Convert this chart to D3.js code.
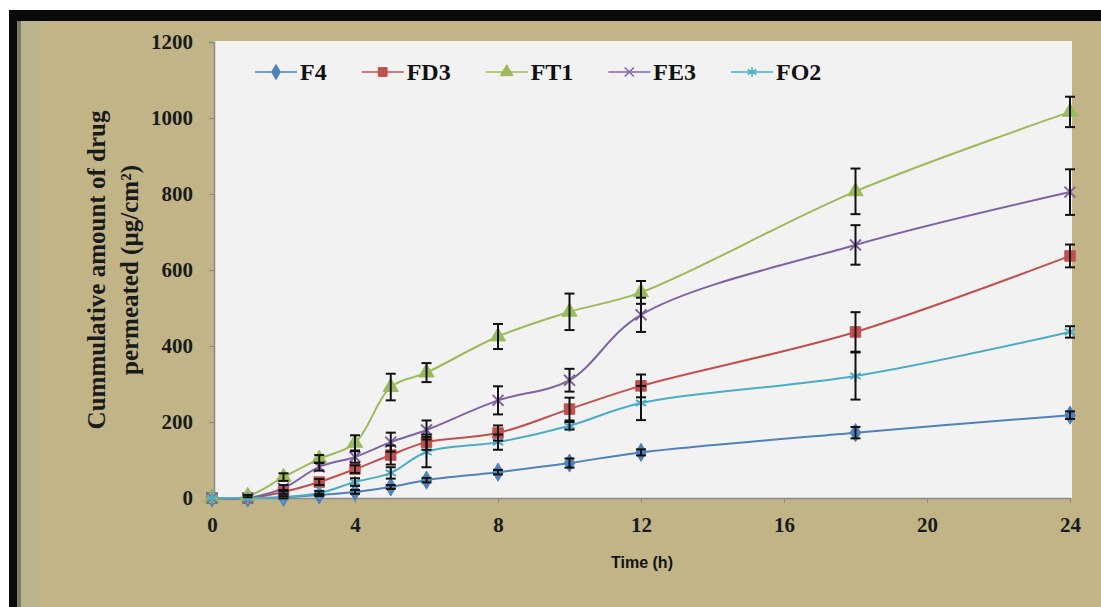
<!DOCTYPE html>
<html>
<head>
<meta charset="utf-8">
<script src="https://cdn.jsdelivr.net/npm/d3@7"></script>
<style>
  body { margin: 0; background: #fff; }
  svg { display: block; }
</style>
</head>
<body>
<div id="chart"></div>
<script>
// sampling times (h)
var time = [0, 1, 2, 3, 4, 5, 6, 8, 10, 12, 18, 24];

// cumulative amount permeated (µg/cm²)
var f4  = [0, 0, 2, 8, 16, 29, 47, 68, 92, 120, 172, 218];
var fd3 = [0, 0, 16, 42, 76, 113, 147, 171, 234, 295, 437, 637];
var ft1 = [0, 5, 55, 103, 145, 292, 330, 425, 490, 541, 807, 1016];
var fe3 = [0, 0, 26, 82, 108, 147, 179, 257, 310, 482, 666, 805];
var fo2 = [0, 0, 2, 13, 42, 66, 121, 147, 190, 250, 321, 437];

// standard deviations (error bars)
var f4Err  = [0, 0, 0, 3, 5, 5, 6, 6, 12, 8, 15, 10];
var fd3Err = [0, 0, 5, 8, 10, 25, 20, 20, 30, 30, 52, 30];
var ft1Err = [0, 3, 10, 10, 20, 35, 25, 33, 48, 30, 60, 40];
var fe3Err = [0, 0, 8, 10, 15, 25, 25, 37, 30, 45, 52, 60];
var fo2Err = [0, 0, 3, 5, 10, 15, 40, 20, 10, 45, 62, 15];

var seriesNames = ['F4', 'FD3', 'FT1', 'FE3', 'FO2'];
var xTicks = [0, 4, 8, 12, 16, 20, 24];
var yTicks = [0, 200, 400, 600, 800, 1000, 1200];

var series = [
    {name: 'F4',  values: f4,  err: f4Err,  color: '#4f81bd', symbol: d3.symbolDiamond, size: 95, filled: true},
    {name: 'FD3', values: fd3, err: fd3Err, color: '#c0504d', symbol: d3.symbolSquare, size: 110, filled: true},
    {name: 'FT1', values: ft1, err: ft1Err, color: '#9bbb59', symbol: d3.symbolTriangle, size: 100, filled: true},
    {name: 'FE3', values: fe3, err: fe3Err, color: '#8064a2', symbol: d3.symbolTimes, size: 80, filled: false},
    {name: 'FO2', values: fo2, err: fo2Err, color: '#4bacc6', symbol: d3.symbolAsterisk, size: 100, filled: false}
];

var width = 1101, height = 607;
var plot = {left: 214, right: 1072, top: 41, bottom: 498};

var svg = d3.select('#chart').append('svg')
    .attr('width', width)
    .attr('height', height);

// frame: tan panel with black border on top and left
svg.append('rect').attr('x', 0).attr('y', 0).attr('width', width).attr('height', height).attr('fill', '#ffffff');
svg.append('rect').attr('x', 9).attr('y', 10).attr('width', width - 9).attr('height', height - 10).attr('fill', '#c1b588');
svg.append('rect').attr('x', 9).attr('y', 10).attr('width', width - 9).attr('height', 11).attr('fill', '#0a0a0a');
svg.append('rect').attr('x', 9).attr('y', 10).attr('width', 8).attr('height', height - 10).attr('fill', '#0a0a0a');
svg.append('rect').attr('x', 17).attr('y', 21).attr('width', 4).attr('height', height - 21).attr('fill', '#7d7766');
svg.append('rect').attr('x', 21).attr('y', 21).attr('width', 20).attr('height', height - 21).attr('fill', '#b9b48c');

// plot area
svg.append('rect')
    .attr('x', plot.left).attr('y', plot.top)
    .attr('width', plot.right - plot.left).attr('height', plot.bottom - plot.top)
    .attr('fill', '#f2f2f2');

var x = d3.scaleLinear().domain([0, 24]).range([212, 1070]);
var y = d3.scaleLinear().domain([0, 1200]).range([plot.bottom, plot.top + 1]);

var tickFont = '"Liberation Serif", "Times New Roman", serif';

var yAxis = svg.append('g')
    .attr('transform', 'translate(' + plot.left + ',0)')
    .call(d3.axisLeft(y).tickValues(yTicks).tickSize(5).tickPadding(16).tickFormat(d3.format('d')));
yAxis.select('.domain').attr('stroke', '#8a8a8a').attr('stroke-width', 1.5);
yAxis.selectAll('.tick line').attr('stroke', '#8a8a8a');
yAxis.selectAll('.tick text')
    .attr('font-family', tickFont).attr('font-weight', 'bold').attr('font-size', 21).attr('fill', '#1a1a1a');

var xAxis = svg.append('g')
    .attr('transform', 'translate(0,' + plot.bottom + ')')
    .call(d3.axisBottom(x).tickValues(xTicks).tickSize(5).tickPadding(14).tickSizeOuter(0));
xAxis.select('.domain').attr('stroke', '#8a8a8a').attr('stroke-width', 1.5);
xAxis.selectAll('.tick line').attr('stroke', '#8a8a8a');
xAxis.selectAll('.tick text')
    .attr('font-family', tickFont).attr('font-weight', 'bold').attr('font-size', 21).attr('fill', '#1a1a1a');

// axis titles
svg.append('text')
    .attr('transform', 'translate(642,568)')
    .attr('text-anchor', 'middle')
    .attr('font-family', '"Liberation Sans Narrow", "Liberation Sans", Arial, sans-serif')
    .attr('font-weight', 'bold').attr('font-size', 16).attr('fill', '#111')
    .text('Time (h)');

var yTitle = svg.append('text')
    .attr('transform', 'translate(105,270) rotate(-90)')
    .attr('text-anchor', 'middle')
    .attr('font-family', tickFont).attr('font-weight', 'bold').attr('font-size', 25).attr('fill', '#1a1a1a');
yTitle.append('tspan').attr('x', 0).attr('dy', 0).text('Cummulative amount of drug');
yTitle.append('tspan').attr('x', 0).attr('dy', 33).text('permeated (µg/cm²)');

// lines
var line = d3.line()
    .x(function(d) { return x(d[0]); })
    .y(function(d) { return y(d[1]); })
    .curve(d3.curveCatmullRom.alpha(0.5));

series.forEach(function(s) {
    var pts = time.map(function(t, i) { return [t, s.values[i]]; });
    svg.append('path')
        .datum(pts)
        .attr('fill', 'none')
        .attr('stroke', s.color)
        .attr('stroke-width', 2)
        .attr('d', line);
});

// markers
series.forEach(function(s) {
    var g = svg.append('g');
    g.selectAll('path')
        .data(time.map(function(t, i) { return [t, s.values[i]]; }))
        .enter().append('path')
        .attr('transform', function(d) { return 'translate(' + x(d[0]) + ',' + y(d[1]) + ')'; })
        .attr('d', d3.symbol().type(s.symbol).size(s.size))
        .attr('fill', s.filled ? s.color : 'none')
        .attr('stroke', s.color)
        .attr('stroke-width', s.filled ? 1 : 2);
});

// error bars
series.forEach(function(s) {
    var g = svg.append('g').attr('stroke', '#111').attr('stroke-width', 2);
    time.forEach(function(t, i) {
        if (!s.err[i]) return;
        var cx = x(t), y1 = y(s.values[i] + s.err[i]), y2 = y(s.values[i] - s.err[i]);
        g.append('line').attr('x1', cx).attr('x2', cx).attr('y1', y1).attr('y2', y2);
        g.append('line').attr('x1', cx - 5).attr('x2', cx + 5).attr('y1', y1).attr('y2', y1);
        g.append('line').attr('x1', cx - 5).attr('x2', cx + 5).attr('y1', y2).attr('y2', y2);
    });
});

// legend, items packed by text width like Excel does
var legend = svg.append('g').attr('transform', 'translate(255,72)');
var legendX = 0;
series.forEach(function(s, i) {
    var lg = legend.append('g').attr('transform', 'translate(' + legendX + ',0)');
    lg.append('line').attr('x1', 0).attr('x2', 42).attr('y1', 0).attr('y2', 0)
        .attr('stroke', s.color).attr('stroke-width', 1.5);
    lg.append('path').attr('transform', 'translate(21,0)')
        .attr('d', d3.symbol().type(s.symbol).size(s.size * 0.7))
        .attr('fill', s.filled ? s.color : 'none')
        .attr('stroke', s.color)
        .attr('stroke-width', s.filled ? 1 : 1.5);
    var txt = lg.append('text').attr('x', 45).attr('y', 8)
        .attr('font-family', tickFont).attr('font-weight', 'bold').attr('font-size', 24).attr('fill', '#111')
        .text(seriesNames[i]);
    legendX += 45 + txt.node().getComputedTextLength() + 35;
});
</script>
</body>
</html>
